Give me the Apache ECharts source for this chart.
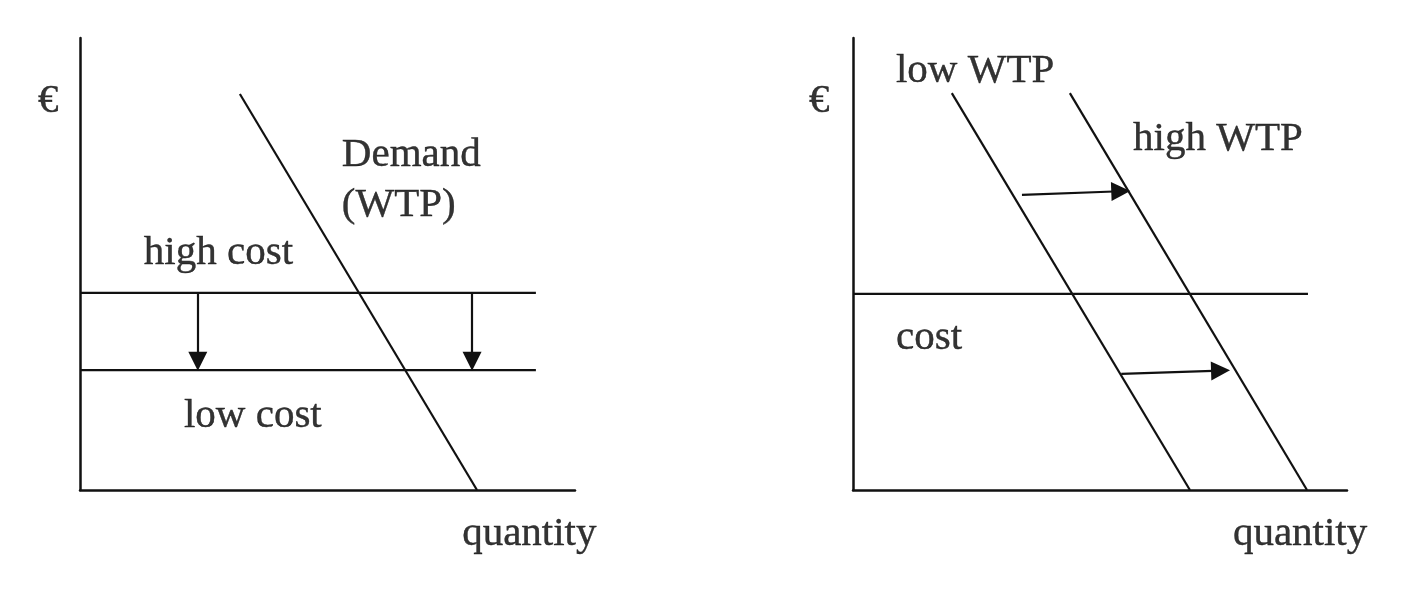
<!DOCTYPE html>
<html>
<head>
<meta charset="utf-8">
<script src="https://cdn.jsdelivr.net/npm/echarts@6/dist/echarts.min.js"></script>
<style>
  html, body { margin: 0; padding: 0; background: #fff; }
  #chart { width: 1421px; height: 602px; }
</style>
</head>
<body>
<div id="chart"></div>
<script>
  // left panel: cost falls, demand fixed (quantity 0-100, price 0-100)
  var demandLine = [[32.3, 87.6], [80.2, 0]];
  var highCostLine = [[0, 43.6], [92.1, 43.6]];
  var lowCostLine = [[0, 26.5], [92.1, 26.5]];
  // shaft start -> centre of arrow head
  var costArrows = [[[23.8, 43.6], [23.8, 28.5]], [[79.2, 43.6], [79.2, 28.5]]];
  var leftLabels = [
    ['€', -8.5, 86.0], ['Demand', 52.9, 74.0], ['(WTP)', 52.9, 62.9],
    ['high cost', 12.9, 52.4], ['low cost', 21.0, 16.3], ['quantity', 77.2, -9.8]
  ];

  // right panel: WTP rises, cost fixed
  var lowWtpLine = [[20.0, 87.8], [68.2, 0]];
  var highWtpLine = [[43.9, 87.8], [91.9, 0]];
  var costLine = [[0, 43.4], [92.1, 43.4]];
  var wtpArrows = [[[34.2, 65.3], [54.2, 66.1]], [[54.3, 25.7], [74.4, 26.4]]];
  var rightLabels = [
    ['€', -8.9, 86.0], ['low WTP', 8.7, 92.6], ['high WTP', 56.7, 77.5],
    ['cost', 8.7, 33.6], ['quantity', 76.9, -9.8]
  ];

  var ink = '#111';
  var fontFamily = '"Liberation Serif", "Times New Roman", serif';

  function axisX(idx) {
    return {
      type: 'value', gridIndex: idx, min: 0, max: 100,
      axisLine: { show: true, onZero: false, lineStyle: { color: ink, width: 2.5 } },
      axisTick: { show: false }, axisLabel: { show: false }, splitLine: { show: false }
    };
  }
  function axisY(idx) {
    return {
      type: 'value', gridIndex: idx, min: 0, max: 100,
      axisLine: { show: true, onZero: false, lineStyle: { color: ink, width: 2.5 } },
      axisTick: { show: false }, axisLabel: { show: false }, splitLine: { show: false }
    };
  }
  function curve(idx, data, arrows) {
    var s = {
      type: 'line', xAxisIndex: idx, yAxisIndex: idx, data: data,
      showSymbol: false, silent: true,
      lineStyle: { color: ink, width: 2.2 }
    };
    if (arrows) {
      s.markLine = {
        silent: true, symbol: ['none', 'triangle'], symbolSize: 19,
        label: { show: false },
        lineStyle: { color: ink, width: 2.2, type: 'solid' },
        data: arrows.map(function (a) { return [{ coord: a[0] }, { coord: a[1] }]; })
      };
    }
    return s;
  }
  function labels(idx, list) {
    return {
      type: 'scatter', xAxisIndex: idx, yAxisIndex: idx, clip: false, silent: true,
      symbolSize: 0,
      data: list.map(function (l) { return { name: l[0], value: [l[1], l[2]] }; }),
      label: {
        show: true, position: 'right', distance: 0, formatter: '{b}',
        color: '#000', fontFamily: fontFamily, fontSize: 41,
        textBorderColor: '#000', textBorderWidth: 0.4
      }
    };
  }

  var option = {
    backgroundColor: '#fff',
    animation: false,
    grid: [
      { left: 80, top: 38, width: 495, height: 452 },
      { left: 853, top: 38, width: 494, height: 452 }
    ],
    xAxis: [axisX(0), axisX(1)],
    yAxis: [axisY(0), axisY(1)],
    series: [
      curve(0, demandLine),
      curve(0, highCostLine, costArrows),
      curve(0, lowCostLine),
      labels(0, leftLabels),
      curve(1, lowWtpLine),
      curve(1, highWtpLine, wtpArrows),
      curve(1, costLine),
      labels(1, rightLabels)
    ]
  };

  var myChart = echarts.init(document.getElementById('chart'));
  myChart.setOption(option);
</script>
</body>
</html>
